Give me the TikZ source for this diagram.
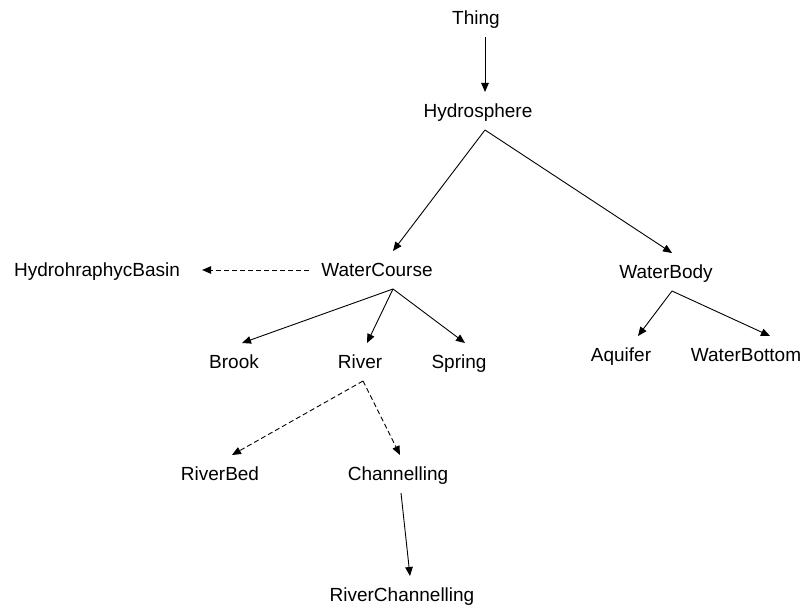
\documentclass[tikz,border=0pt]{standalone}
\usepackage{fontspec}
\setmainfont{Liberation Sans}
\usetikzlibrary{arrows.meta}

\begin{document}
\begin{tikzpicture}[x=1pt,y=-1pt,
  concept/.style = {inner xsep=0pt, inner ysep=12pt, text height=13.6pt, text depth=0pt,
                    font=\fontsize{19}{22}\selectfont},
  isa/.style = {-{Triangle[length=9pt,width=7.5pt]}, line width=0.9pt},
  rel/.style = {isa, dash pattern=on 5pt off 3pt}]
\useasboundingbox (0,0) rectangle (805,607);
\node[concept](T) at (476,18) {Thing};
\node[concept](H) at (478,111) {Hydrosphere};
\node[concept](HB) at (97,270) {HydrohraphycBasin};
\node[concept](WC) at (377,270) {WaterCourse};
\node[concept](WB) at (666,272) {WaterBody};
\node[concept](B) at (234,362) {Brook};
\node[concept](R) at (360,362) {River};
\node[concept](S) at (459,362) {Spring};
\node[concept](A) at (621,355) {Aquifer};
\node[concept](WBo) at (746,355) {WaterBottom};
\node[concept](RB) at (220,474) {RiverBed};
\node[concept](C) at (398,474) {Channelling};
\node[concept](RC) at (402,595) {RiverChannelling};

\path [isa] ([xshift=9pt]T.south) edge ([xshift=7pt]H.north);
\path [isa] ([xshift=7pt]H.south) edge ([xshift=16pt]WC.north);
\path [isa] ([xshift=7pt]H.south) edge ([xshift=6pt]WB.north);
\path [rel] ([xshift=-12pt]WC.west) edge ([xshift=22pt]HB.east);
\path [isa] ([xshift=16pt]WC.south) edge ([xshift=8pt]B.north);
\path [isa] ([xshift=16pt]WC.south) edge ([xshift=7pt]R.north);
\path [isa] ([xshift=16pt]WC.south) edge ([xshift=6pt]S.north);
\path [isa] ([xshift=6pt]WB.south) edge ([xshift=17pt]A.north);
\path [isa] ([xshift=6pt]WB.south) edge ([xshift=24pt]WBo.north);
\path [rel] ([xshift=3pt]R.south) edge ([xshift=12pt]RB.north);
\path [rel] ([xshift=3pt]R.south) edge ([xshift=2pt]C.north);
\path [isa] ([xshift=3pt]C.south) edge ([xshift=8pt]RC.north);
\end{tikzpicture}
\end{document}
